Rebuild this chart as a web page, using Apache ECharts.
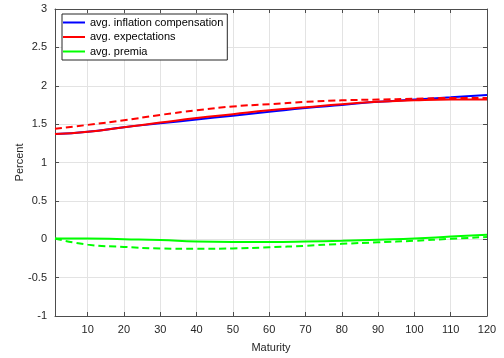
<!DOCTYPE html>
<html>
<head>
<meta charset="utf-8">
<script src="https://cdn.jsdelivr.net/npm/echarts@6/dist/echarts.min.js"></script>
<style>html,body{margin:0;padding:0;background:#fff}#c{width:504px;height:358px}</style>
</head>
<body>
<div id="c"></div>
<script>
var maturities = [1, 10, 20, 30, 40, 50, 60, 70, 80, 90, 100, 110, 120];
var compSolid  = [1.37, 1.40, 1.46, 1.51, 1.56, 1.61, 1.66, 1.71, 1.75, 1.79, 1.82, 1.85, 1.88];
var expSolid   = [1.37, 1.40, 1.46, 1.52, 1.58, 1.63, 1.68, 1.72, 1.76, 1.79, 1.81, 1.82, 1.82];
var expDashed  = [1.44, 1.49, 1.55, 1.62, 1.68, 1.73, 1.76, 1.79, 1.81, 1.82, 1.83, 1.84, 1.84];
var premSolid  = [0.01, 0.01, 0.00, -0.01, -0.03, -0.035, -0.035, -0.03, -0.02, -0.005, 0.01, 0.035, 0.06];
var premDashed = [0.01, -0.07, -0.10, -0.12, -0.125, -0.12, -0.105, -0.085, -0.06, -0.04, -0.02, 0.005, 0.03];
var yTicks = [-1, -0.5, 0, 0.5, 1, 1.5, 2, 2.5, 3];
var xTicks = [10, 20, 30, 40, 50, 60, 70, 80, 90, 100, 110, 120];
var legendNames = ['avg. inflation compensation', 'avg. expectations', 'avg. premia'];

function pairs(ys){ return maturities.map(function(m,i){ return [m, ys[i]]; }); }

var font = 'Liberation Sans, Arial, Helvetica, sans-serif';
var axisCol = '#4d4d4d';
function mkLine(name, ys, color, dashed){
  return {
    name: name, type: 'line', data: pairs(ys), smooth: true, showSymbol: false, symbol: 'none',
    lineStyle: { color: color, width: 2, type: dashed ? [7, 4] : 'solid' },
    itemStyle: { color: color }, animation: false
  };
}

var chart = echarts.init(document.getElementById('c'), null, {renderer: 'canvas'});
chart.setOption({
  animation: false,
  backgroundColor: '#fff',
  grid: { left: 55, right: 17, top: 9, bottom: 42, containLabel: false },
  legend: {
    data: legendNames, orient: 'vertical', left: 62, top: 14,
    backgroundColor: '#fff', borderColor: '#262626', borderWidth: 1, borderRadius: 0,
    padding: [3, 4, 3, 1], itemGap: 3.5, itemWidth: 22, itemHeight: 2, icon: 'rect',
    textStyle: { fontFamily: font, fontSize: 11, color: '#000' }
  },
  xAxis: [{
    type: 'value', min: 1, max: 120, position: 'bottom',
    name: 'Maturity', nameLocation: 'middle', nameGap: 26, nameMoveOverlap: false,
    nameTextStyle: { fontFamily: font, fontSize: 11, color: '#262626' },
    axisLine: { show: true, onZero: false, lineStyle: { color: axisCol, width: 1 } },
    axisTick: { show: true, inside: true, length: 4, customValues: xTicks, lineStyle: { color: axisCol } },
    axisLabel: { fontFamily: font, fontSize: 11, color: '#262626', margin: 8, customValues: xTicks },
    splitLine: { show: true, lineStyle: { color: '#e3e3e3', width: 1 } }
  }, {
    type: 'value', min: 1, max: 120, position: 'top',
    axisLine: { show: true, onZero: false, lineStyle: { color: axisCol, width: 1 } },
    axisTick: { show: true, inside: true, length: 4, customValues: xTicks, lineStyle: { color: axisCol } },
    axisLabel: { show: false, customValues: xTicks }, splitLine: { show: false }
  }],
  yAxis: [{
    type: 'value', min: -1, max: 3, interval: 0.5, position: 'left',
    name: 'Percent', nameLocation: 'middle', nameGap: 30, nameRotate: 90, nameMoveOverlap: false,
    nameTextStyle: { fontFamily: font, fontSize: 11, color: '#262626' },
    axisLine: { show: true, onZero: false, lineStyle: { color: axisCol, width: 1 } },
    axisTick: { show: true, inside: true, length: 4, lineStyle: { color: axisCol } },
    axisLabel: { fontFamily: font, fontSize: 11, color: '#262626', margin: 8,
      formatter: function(v){ return yTicks.indexOf(v) >= 0 ? String(v) : ''; } },
    splitLine: { show: true, lineStyle: { color: '#e3e3e3', width: 1 } }
  }, {
    type: 'value', min: -1, max: 3, interval: 0.5, position: 'right',
    axisLine: { show: true, onZero: false, lineStyle: { color: axisCol, width: 1 } },
    axisTick: { show: true, inside: true, length: 4, lineStyle: { color: axisCol } },
    axisLabel: { show: false }, splitLine: { show: false }
  }],
  series: [
    mkLine(legendNames[0], compSolid, '#0000ff', false),
    mkLine(legendNames[1], expSolid, '#ff0000', false),
    mkLine(legendNames[2], premSolid, '#00ff00', false),
    mkLine('expectations (alt)', expDashed, '#ff0000', true),
    mkLine('premia (alt)', premDashed, '#00ff00', true)
  ]
});
</script>
</body>
</html>
